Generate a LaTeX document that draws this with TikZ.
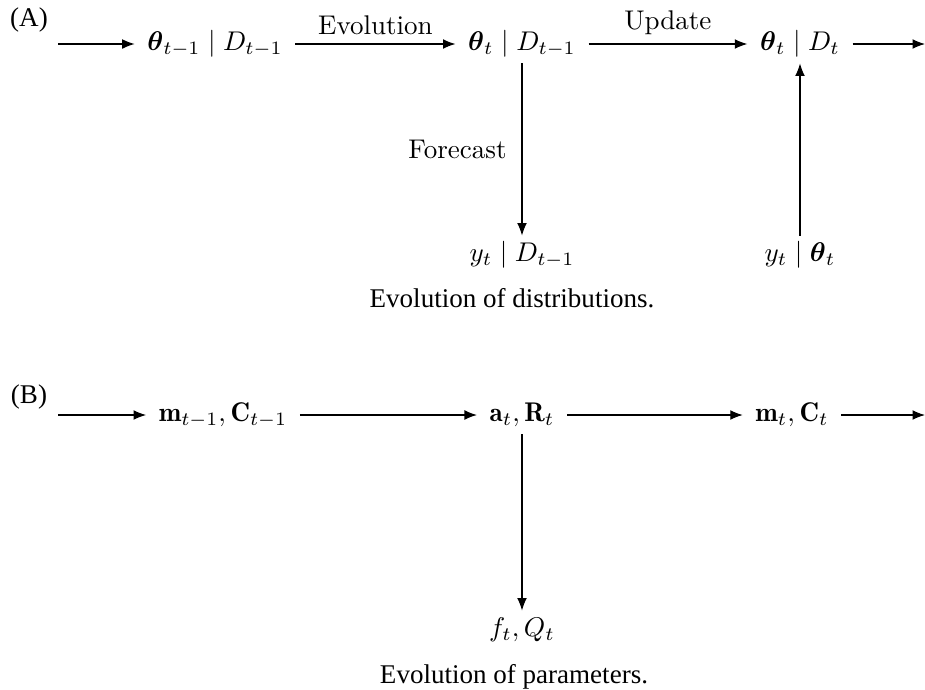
\documentclass[tikz,border=0pt]{standalone}
\usepackage{amsmath}
\usepackage{fontspec}
\newfontfamily\capfont{Liberation Serif}
\usepackage{tikz}
\usetikzlibrary{arrows.meta}

\begin{document}
\begin{tikzpicture}[
  x=0.013cm, y=-0.013cm,
  state/.style={inner xsep=4.5pt, inner ysep=2pt, text height=7.5pt, text depth=2.5pt},
  flow/.style={-{Latex[length=4.6pt,width=3.6pt]}},
  tag/.style={font=\capfont},
  captext/.style={font=\capfont}
]
\useasboundingbox (0,0) rectangle (925,690);

\node[tag] (tagA) at (29,20) {(A)};
\coordinate (inA) at (58,44);
\node[state] (prior) at (215,44) {$\boldsymbol{\theta}_{t-1}\mid D_{t-1}$};
\node[state] (evol) at (522,44) {$\boldsymbol{\theta}_t\mid D_{t-1}$};
\node[state] (post) at (800,44) {$\boldsymbol{\theta}_t\mid D_t$};
\coordinate (outA) at (925,44);
\node[state] (fcast) at (522,255) {$y_t\mid D_{t-1}$};
\node[state] (obs) at (800,255) {$y_t\mid\boldsymbol{\theta}_t$};
\node[captext] (capA) at (512,298) {Evolution of distributions.};

\draw[flow] (inA) -- (prior);
\draw[flow] (prior) -- node[above] {Evolution} (evol);
\draw[flow] (evol) -- node[above] {Update} (post);
\draw[flow] (post) -- (outA);
\draw[flow] (evol) -- node[left, inner sep=5.5pt] {Forecast} (fcast);
\draw[flow] (obs) -- (post);

\node[tag] (tagB) at (29,397) {(B)};
\coordinate (inB) at (58,415);
\node[state] (mprev) at (223,415) {$\mathbf{m}_{t-1},\mathbf{C}_{t-1}$};
\node[state] (aR) at (522,415) {$\mathbf{a}_t,\mathbf{R}_t$};
\node[state] (mC) at (792,415) {$\mathbf{m}_t,\mathbf{C}_t$};
\coordinate (outB) at (925,415);
\node[state] (fQ) at (522,630) {$f_t,Q_t$};
\node[captext] (capB) at (514,677) {Evolution of parameters.};

\draw[flow] (inB) -- (mprev);
\draw[flow] (mprev) -- (aR);
\draw[flow] (aR) -- (mC);
\draw[flow] (mC) -- (outB);
\draw[flow] (aR) -- (fQ);
\end{tikzpicture}
\end{document}
